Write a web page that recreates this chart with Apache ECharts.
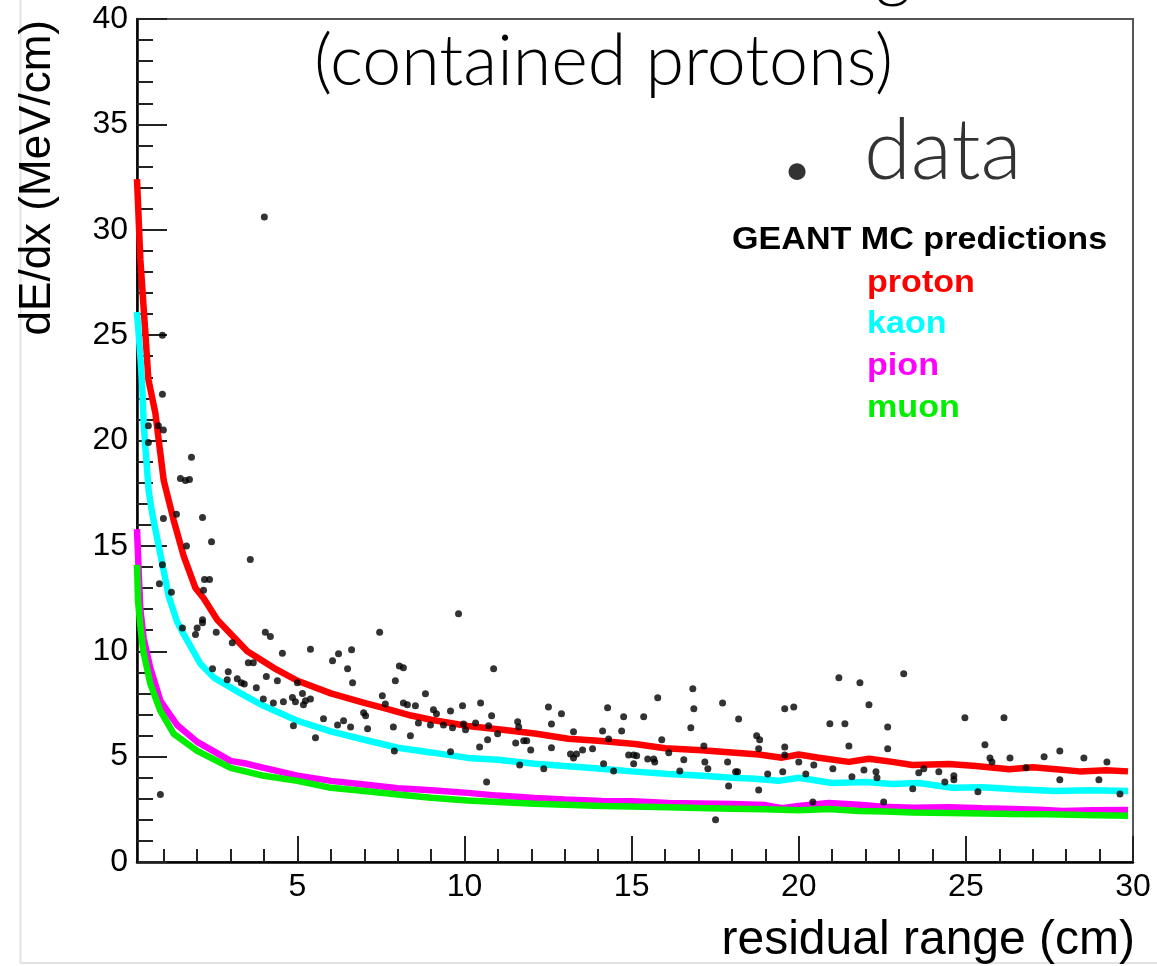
<!DOCTYPE html>
<html><head><meta charset="utf-8">
<script src="https://cdn.jsdelivr.net/npm/echarts@6/dist/echarts.min.js"></script>
<style>html,body{margin:0;padding:0;background:#fff}#c{width:1157px;height:966px}</style>
</head><body><div id="c"></div>
<script>
// ---- MC prediction curves (residual range cm, dE/dx MeV/cm) ----
const protonX = [0.2,0.3,0.45,0.54,0.75,1.0,1.3,1.6,1.95,2.2,2.6,2.9,3.5,4.3,5.0,6.0,7.0,7.6,8.4,9.0,10.1,11.0,12.1,13.1,14.0,15.1,16.0,17.1,18.0,18.8,19.5,20.0,20.6,21.5,22.1,22.8,23.4,24.5,25.3,26.3,27.0,27.7,28.4,29.2,29.85];
const protonY = [32.4,28.6,25.1,22.9,21.3,18.1,16.2,14.5,13.0,12.5,11.5,11.0,10.0,9.2,8.6,8.0,7.55,7.3,6.95,6.75,6.45,6.3,6.1,5.85,5.75,5.6,5.4,5.3,5.2,5.1,4.95,5.1,4.95,4.75,4.9,4.75,4.6,4.65,4.55,4.4,4.5,4.4,4.3,4.35,4.3];
const kaonX = [0.2,0.3,0.35,0.4,0.45,0.55,0.66,0.9,1.15,1.4,1.6,2.1,2.5,3.3,4.0,5.0,6.0,7.0,8.0,9.0,10.1,11.0,12.1,13.0,14.1,15.0,16.1,17.0,18.0,18.7,19.4,20.0,21.0,22.0,22.8,23.6,24.6,25.5,26.5,27.7,28.7,29.85];
const kaonY = [26.1,24.0,22.8,20.8,19.7,17.6,16.5,14.6,12.6,11.4,10.8,9.4,8.75,8.0,7.4,6.7,6.2,5.8,5.42,5.2,4.94,4.85,4.66,4.55,4.42,4.3,4.18,4.1,4.0,3.95,3.85,4.0,3.75,3.8,3.7,3.75,3.52,3.55,3.45,3.37,3.4,3.37];
const pionX = [0.2,0.25,0.3,0.4,0.6,0.9,1.4,2.0,3.0,3.5,4.0,5.0,6.0,7.0,8.0,9.0,10.1,11.0,12.1,13.0,14.1,15.0,16.1,17.0,18.0,19.0,19.5,20.0,20.9,21.8,22.5,23.4,24.5,25.5,26.4,27.2,27.9,28.8,29.85];
const pionY = [15.8,13.8,12.0,10.6,9.2,7.65,6.5,5.7,4.8,4.66,4.47,4.1,3.85,3.68,3.5,3.4,3.28,3.15,3.04,2.97,2.9,2.88,2.8,2.78,2.75,2.7,2.55,2.66,2.8,2.72,2.62,2.57,2.6,2.55,2.52,2.48,2.42,2.45,2.47];
const muonX = [0.2,0.23,0.3,0.39,0.6,0.9,1.3,2.0,3.0,4.0,5.0,6.0,7.0,8.0,9.0,10.1,11.0,12.1,13.0,14.1,15.0,16.1,17.0,18.0,19.0,20.0,20.9,21.8,22.6,23.4,24.5,25.5,26.4,27.5,28.5,29.85];
const muonY = [14.1,12.4,11.2,10.0,8.45,7.17,6.08,5.27,4.47,4.09,3.85,3.52,3.37,3.2,3.05,2.92,2.85,2.76,2.72,2.66,2.63,2.6,2.56,2.53,2.5,2.45,2.52,2.42,2.4,2.35,2.33,2.3,2.28,2.27,2.23,2.2];

// ---- data points ----
const dataX = [4.01,0.96,0.96,0.54,0.84,0.99,0.54,1.83,1.5,1.65,1.77,0.99,1.38,2.16,1.68,2.43,3.59,0.96,2.22,2.37,0.87,1.23,2.19,2.16,
0.9,1.56,2.0,1.95,2.16,2.57,3.05,4.04,4.19,4.55,5.39,3.53,3.68,2.46,2.93,2.9,3.2,3.32,3.41,4.07,4.4,5.0,3.77,3.98,4.28,4.58,4.85,4.94,5.15,5.24,5.39,5.18,6.05,6.23,6.62,6.5,6.65,5.78,5.54,4.88,6.2,6.38,6.59,6.98,7.04,7.1,7.46,7.54,7.63,7.87,7.93,8.05,8.17,8.17,7.9,8.38,
9.82,10.87,8.29,8.53,8.83,8.62,8.98,9.07,9.16,9.37,9.58,9.64,9.58,9.94,9.97,10.03,10.33,10.48,10.45,10.72,10.69,10.81,10.66,10.99,11.53,11.59,11.62,11.65,11.77,11.86,11.98,12.37,12.51,12.6,12.6,12.9,13.17,13.26,13.26,13.35,13.53,13.83,14.13,14.16,14.28,14.31,14.46,14.7,14.76,14.91,15.06,15.15,15.06,15.36,15.48,15.66,15.69,15.78,15.9,16.11,16.44,16.56,16.83,16.86,16.77,17.16,17.19,17.28,17.51,17.72,17.87,17.9,18.11,18.17,18.2,18.74,18.83,18.8,18.8,19.07,19.52,19.58,19.58,19.58,19.85,20.0,
20.21,20.42,20.45,20.93,21.02,21.2,21.38,21.5,21.59,21.83,21.95,22.1,22.31,22.34,22.54,22.66,22.66,23.14,23.41,23.59,23.74,24.19,24.37,24.64,24.64,24.97,25.36,25.57,25.72,25.78,26.14,26.32,26.8,27.34,27.81,27.81,28.53,28.98,29.22,29.61];
const dataY = [30.6,25.0,22.2,20.7,20.7,20.5,19.9,19.2,18.2,18.1,18.15,16.3,16.5,16.35,15.0,15.2,14.35,14.1,13.4,13.4,13.2,12.8,12.9,11.5,
3.2,11.1,11.1,10.8,11.35,10.9,10.4,10.9,10.7,9.9,10.1,9.45,9.45,9.17,9.03,8.65,8.7,8.5,8.45,8.8,8.6,8.5,8.27,7.74,7.55,7.6,7.8,7.6,8.0,7.65,7.74,7.46,9.55,9.88,10.07,9.17,8.5,6.8,5.9,6.46,6.5,6.7,6.41,7.08,6.94,6.32,10.9,7.89,7.5,6.41,8.6,9.3,9.22,7.55,5.27,5.99,
11.78,9.17,7.46,7.41,7.98,6.6,6.5,7.22,7.03,6.5,7.17,6.37,5.23,7.41,6.55,6.27,6.6,7.55,5.46,6.46,5.8,6.94,3.8,6.08,5.65,6.65,6.41,4.6,5.75,5.75,5.32,4.42,7.36,6.55,5.42,7.03,5.13,4.94,6.18,5.13,5.32,5.37,6.22,4.66,7.32,5.84,4.32,6.22,6.89,5.08,5.08,5.04,4.66,6.89,4.89,4.89,4.75,7.79,5.8,5.18,4.32,4.85,8.22,7.27,6.37,5.51,4.75,4.42,2.0,7.55,4.75,3.61,4.28,4.28,6.79,5.99,5.8,5.37,3.42,4.18,4.28,7.27,5.46,5.08,7.36,4.75,
4.18,2.85,4.6,6.56,4.42,8.74,6.56,5.51,4.04,8.5,4.37,7.46,4.28,4.0,2.85,6.41,5.37,8.93,3.47,4.23,4.42,4.28,3.8,4.09,3.9,6.84,3.33,5.56,4.94,4.75,6.84,4.94,4.47,4.99,5.27,3.9,4.94,3.9,4.75,3.23];

// ---- ticks ----
const xMajorTicks = [5,10,15,20,25,30];
const xMinorTicks = [1,2,3,4,6,7,8,9,11,12,13,14,16,17,18,19,21,22,23,24,26,27,28,29];

// ---- texts ----
const xTitle = 'residual range (cm)';
const yTitle = 'dE/dx (MeV/cm)';
const subTitle = '(contained protons)';
const legendHeader = 'GEANT MC predictions';
const legendNames = ['proton','kaon','pion','muon'];
const colors = ['#ff0000','#00ffff','#ff00ff','#00ee00'];

function pairs(xs, ys){ return xs.map((x,i)=>[x, ys[i]]); }

const chart = echarts.init(document.getElementById('c'), null, {renderer:'canvas'});
const tickStyle = {color:'#222', width:2};
const labelFont = {fontFamily:'"Liberation Sans", Arial, sans-serif', color:'#000'};

const curves = [[protonX,protonY],[kaonX,kaonY],[pionX,pionY],[muonX,muonY]];
const series = curves.map((c,i)=>({
  type:'line', name:legendNames[i], data:pairs(c[0],c[1]), showSymbol:false, symbol:'none',
  lineStyle:{color:colors[i], width:6.5}, itemStyle:{color:colors[i]}, z:2, clip:true
}));
series.push({type:'scatter', name:'data', data:pairs(dataX,dataY), symbol:'circle', symbolSize:7,
  itemStyle:{color:'#000'}, z:5});

const legendGraphics = [
  {type:'text', x:732, y:240, scaleX:1.1, style:{text:legendHeader, font:'bold 31px "Liberation Sans", Arial, sans-serif', fill:'#000', align:'left', verticalAlign:'middle'}}
];
legendNames.forEach((n,i)=>{
  legendGraphics.push({type:'text', x:867, y:283 + i*41.7, scaleX:1.1, style:{text:n, font:'bold 31px "Liberation Sans", Arial, sans-serif', fill:colors[i], align:'left', verticalAlign:'middle'}});
});

chart.setOption({
  animation:false,
  backgroundColor:'#fff',
  grid:{left:137, top:19, width:996, height:843, show:true, borderColor:'#555', borderWidth:2, backgroundColor:'transparent'},
  xAxis:[
    {type:'value', min:0.2, max:30, position:'bottom',
     axisLine:{show:true, onZero:false, lineStyle:{color:'#000', width:2.5}},
     axisTick:{show:true, inside:true, length:13, customValues:xMinorTicks, lineStyle:tickStyle},
     axisLabel:{show:true, customValues:xMajorTicks, margin:9, fontSize:32, ...labelFont},
     splitLine:{show:false}},
    {type:'value', min:0.2, max:30, position:'bottom',
     axisLine:{show:false, onZero:false},
     axisTick:{show:true, inside:true, length:26, customValues:xMajorTicks, lineStyle:tickStyle},
     axisLabel:{show:false}, splitLine:{show:false}}
  ],
  yAxis:{type:'value', min:0, max:40, interval:5,
    axisLine:{show:true, onZero:false, lineStyle:{color:'#000', width:2.5}},
    axisTick:{show:true, inside:true, length:30, lineStyle:tickStyle},
    minorTick:{show:true, splitNumber:5, length:16, lineStyle:tickStyle},
    axisLabel:{margin:9, fontSize:32, ...labelFont},
    splitLine:{show:false}, minorSplitLine:{show:false}},
  series:series,
  graphic:[
    {type:'line', shape:{x1:20.5,y1:0,x2:20.5,y2:963}, style:{stroke:'#e2e2e2', lineWidth:2}, silent:true},
    {type:'line', shape:{x1:20,y1:963,x2:1157,y2:963}, style:{stroke:'#e2e2e2', lineWidth:2}, silent:true},
    {type:'text', x:893, y:-30, style:{text:'g', font:'300 70px Lato, "Open Sans", sans-serif', fill:'#000', align:'center', verticalAlign:'middle'}},
    {type:'text', x:314, y:62, style:{text:subTitle, font:'300 70px Lato, "Open Sans", sans-serif', fill:'#000', align:'left', verticalAlign:'middle'}},
    {type:'text', x:797, y:143, style:{text:'.', font:'bold 112px Lato, "Open Sans", sans-serif', fill:'#333', align:'center', verticalAlign:'middle'}},
    {type:'text', x:864, y:152, style:{text:'data', font:'300 85px Lato, "Open Sans", sans-serif', fill:'#333', align:'left', verticalAlign:'middle'}},
    ...legendGraphics,
    {type:'text', x:1135, y:941, style:{text:xTitle, font:'48px "Liberation Sans", Arial, sans-serif', fill:'#000', align:'right', verticalAlign:'middle'}},
    {type:'text', x:38, y:20, rotation:Math.PI/2, style:{text:yTitle, font:'44px "Liberation Sans", Arial, sans-serif', fill:'#000', align:'right', verticalAlign:'middle'}}
  ]
});
</script>
</body></html>
